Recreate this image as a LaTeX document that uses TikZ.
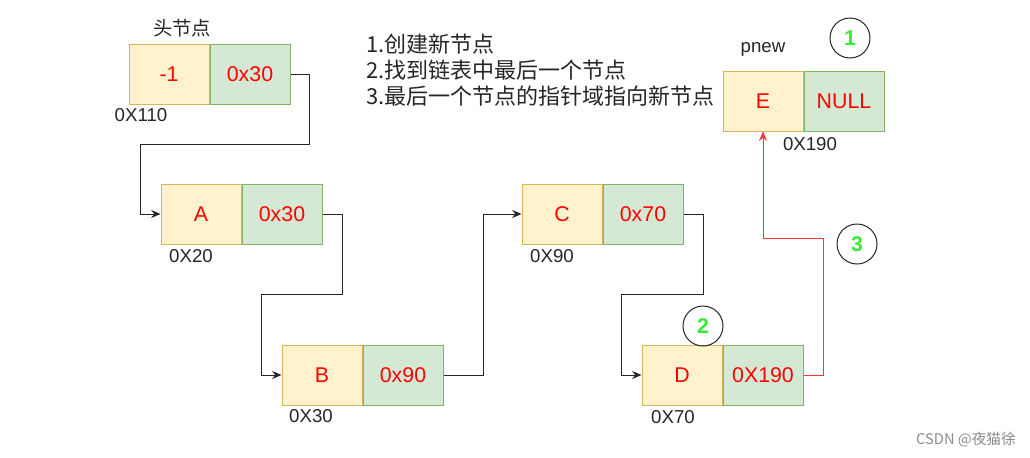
\documentclass[tikz,border=0pt]{standalone}
\usepackage{fontspec}
\setmainfont{Liberation Sans}
\newfontfamily\cjk{Noto Sans CJK SC}
\usetikzlibrary{arrows.meta,positioning}

\definecolor{datafill}{HTML}{FFF2CC}
\definecolor{datadraw}{HTML}{D6B656}
\definecolor{ptrfill}{HTML}{D5E8D4}
\definecolor{ptrdraw}{HTML}{82B366}
\definecolor{stepgreen}{HTML}{33EE33}
\definecolor{linkred}{HTML}{FF3333}

\begin{document}
\begin{tikzpicture}[
    x=0.75pt, y=-0.75pt,
    datacell/.style={rectangle, draw=datadraw, fill=datafill, line width=0.75pt,
                minimum width=60pt, minimum height=45pt, inner sep=0pt,
                text=red, font=\fontsize{16}{19}\selectfont},
    ptrcell/.style={datacell, draw=ptrdraw, fill=ptrfill},
    addr/.style={font=\fontsize{14}{17}\selectfont, text=black!85},
    stepmark/.style={circle, draw=black!85, line width=0.75pt, minimum size=30pt,
                inner sep=0pt, text=stepgreen, font=\fontsize{16}{19}\selectfont\bfseries},
    link/.style={-{Stealth[length=7pt,width=6pt]}, line width=0.75pt, draw=black!85},
    redlink/.style={link, draw=linkred}
]
    \useasboundingbox[fill=white] (0,0) rectangle (1030,457);

    % list nodes
    \node[datacell] (headd) at (169,74.5) {-1};
    \node[ptrcell, right=0pt of headd] (headp) {0x30};
    \node[datacell] (ad) at (201,214) {A};
    \node[ptrcell, right=0pt of ad] (ap) {0x30};
    \node[datacell] (bd) at (322,375) {B};
    \node[ptrcell, right=0pt of bd] (bp) {0x90};
    \node[datacell] (cd) at (562,214) {C};
    \node[ptrcell, right=0pt of cd] (cp) {0x70};
    \node[datacell] (dd) at (682,375) {D};
    \node[ptrcell, right=0pt of dd] (dp) {0X190};
    \node[datacell] (ed) at (763,101) {E};
    \node[ptrcell, right=0pt of ed] (ep) {NULL};

    % labels
    \node[addr, font=\cjk\fontsize{14.5}{17}\selectfont] (headlbl) at (182,28) {头节点};
    \node[addr] (headaddr) at (141,115) {0X110};
    \node[addr] (aaddr) at (191,256) {0X20};
    \node[addr] (baddr) at (311,416) {0X30};
    \node[addr] (caddr) at (552,256) {0X90};
    \node[addr] (daddr) at (673,417) {0X70};
    \node[addr] (eaddr) at (810,144) {0X190};
    \node[addr] (pnew) at (763,49) {pnew};

    \node[anchor=west, align=left, text=black!85, inner sep=0pt,
          font=\cjk\fontsize{16.5}{19.5}\selectfont] (steps) at (366,70)
        {1.创建新节点\\2.找到链表中最后一个节点\\3.最后一个节点的指针域指向新节点};

    % step marks
    \node[stepmark] (one) at (850,38) {1};
    \node[stepmark] (two) at (703,326) {2};
    \node[stepmark] (three) at (857,244) {3};

    % links
    \draw[link] (headp.east) -- ++(19,0) -- ++(0,70) -| ([xshift=-15pt]ad.west) -- (ad.west);
    \draw[link] (ap.east) -- ++(20,0) -- ++(0,80) -| ([xshift=-15pt]bd.west) -- (bd.west);
    \draw[link] (bp.east) -- ++(40,0) |- (cd.west);
    \draw[link] (cp.east) -- ++(20,0) -- ++(0,80) -| ([xshift=-15pt]dd.west) -- (dd.west);
    \draw[redlink] (dp.east) -- ++(20,0) -- ++(0,-137) -| (ed.south);

    \node[text=black!45, font=\cjk\fontsize{11}{13}\selectfont] (mark) at (966,440) {CSDN @夜猫徐};
\end{tikzpicture}
\end{document}
